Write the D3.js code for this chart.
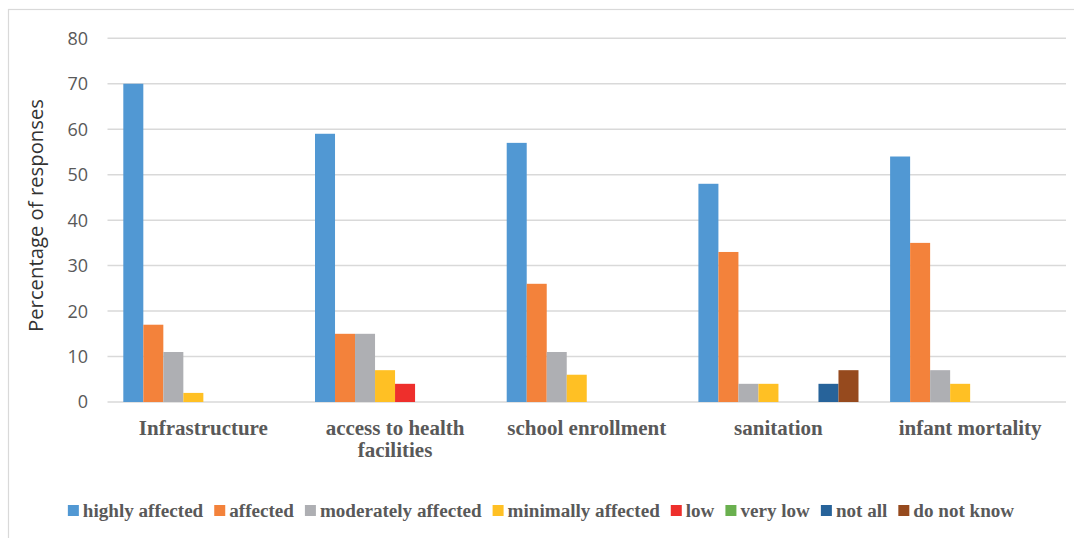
<!DOCTYPE html>
<html>
<head>
<meta charset="utf-8">
<script src="https://cdn.jsdelivr.net/npm/d3@7"></script>
<style>
  body { margin: 0; background: #fff; }
  svg { display: block; }
</style>
</head>
<body>
<svg id="chart" width="1074" height="538"></svg>
<script>
// Survey categories and the share of responses (%) for each impact level
const categories = ["Infrastructure", "access to health facilities", "school enrollment", "sanitation", "infant mortality"];
const seriesNames = ["highly affected", "affected", "moderately affected", "minimally affected", "low", "very low", "not all", "do not know"];
const highlyAffected     = [70, 59, 57, 48, 54];
const affected           = [17, 15, 26, 33, 35];
const moderatelyAffected = [11, 15, 11, 4, 7];
const minimallyAffected  = [2, 7, 6, 4, 4];
const low                = [0, 4, 0, 0, 0];
const veryLow            = [0, 0, 0, 0, 0];
const notAll             = [0, 0, 0, 4, 0];
const doNotKnow          = [0, 0, 0, 7, 0];
const yTicks = [0, 10, 20, 30, 40, 50, 60, 70, 80];
const seriesColors = ["#5198D3", "#F3823B", "#AEAFB3", "#FFC024", "#EE2F2C", "#6AB04F", "#27639A", "#964A1E"];

const seriesValues = [highlyAffected, affected, moderatelyAffected, minimallyAffected, low, veryLow, notAll, doNotKnow];

const svg = d3.select("#chart");
const W = 1074, H = 538;
const plot = { left: 107.5, right: 1066, top: 38.3, bottom: 402 };

// chart frame (top and left edges visible)
svg.append("rect")
  .attr("x", 8.5).attr("y", 9.5)
  .attr("width", W + 10).attr("height", H + 10)
  .attr("fill", "none").attr("stroke", "#d9d9d9").attr("stroke-width", 1.2);

const y = d3.scaleLinear().domain([0, 80]).range([plot.bottom, plot.top]);
const x0 = d3.scaleBand().domain(categories).range([plot.left, plot.right]).padding(0);
const x1 = d3.scaleBand().domain(seriesNames).range([0, x0.bandwidth()])
  .paddingInner(0).paddingOuter(0.79);

// horizontal gridlines
svg.append("g").selectAll("line").data(yTicks).join("line")
  .attr("x1", plot.left).attr("x2", plot.right)
  .attr("y1", d => y(d)).attr("y2", d => y(d))
  .attr("stroke", "#d9d9d9").attr("stroke-width", 1.5);

// y tick labels
svg.append("g").selectAll("text").data(yTicks).join("text")
  .attr("x", 88).attr("y", d => y(d))
  .attr("dy", "0.36em")
  .attr("text-anchor", "end")
  .attr("font-family", "'Open Sans', sans-serif")
  .attr("font-size", 18)
  .attr("fill", "#595959")
  .text(d => d);

// y axis title
svg.append("text")
  .attr("transform", `translate(43,${(98 + 333) / 2}) rotate(-90)`)
  .attr("text-anchor", "middle")
  .attr("font-family", "'Open Sans', sans-serif")
  .attr("font-size", 20.3)
  .attr("fill", "#333333")
  .text("Percentage of responses");

// bars
const groups = svg.append("g").selectAll("g").data(categories).join("g")
  .attr("transform", d => `translate(${x0(d)},0)`);

groups.selectAll("rect")
  .data((c, ci) => seriesNames.map((s, si) => ({ s, si, v: seriesValues[si][ci] })))
  .join("rect")
  .attr("x", d => x1(d.s))
  .attr("width", x1.bandwidth())
  .attr("y", d => y(d.v))
  .attr("height", d => y(0) - y(d.v))
  .attr("fill", d => seriesColors[d.si]);

// category labels, wrapped to fit each group
const catFont = "bold 21px 'Liberation Serif', 'Times New Roman', serif";
const measureCtx = document.createElement("canvas").getContext("2d");
function textWidth(str, font) { measureCtx.font = font; return measureCtx.measureText(str).width; }

function wrap(str, maxW) {
  const words = str.split(" ");
  const lines = [];
  let cur = "";
  words.forEach(w => {
    const test = cur ? cur + " " + w : w;
    if (cur && textWidth(test, catFont) > maxW) { lines.push(cur); cur = w; }
    else cur = test;
  });
  if (cur) lines.push(cur);
  return lines;
}

const catLabels = svg.append("g").selectAll("text").data(categories).join("text")
  .attr("x", d => x0(d) + x0.bandwidth() / 2)
  .attr("y", 435)
  .attr("text-anchor", "middle")
  .attr("font-family", "'Liberation Serif', 'Times New Roman', serif")
  .attr("font-weight", "bold")
  .attr("font-size", 21)
  .attr("fill", "#595959");

catLabels.each(function (d) {
  const lines = wrap(d, x0.bandwidth() - 6);
  d3.select(this).selectAll("tspan").data(lines).join("tspan")
    .attr("x", x0(d) + x0.bandwidth() / 2)
    .attr("dy", (l, i) => i === 0 ? 0 : 22)
    .text(l => l);
});

// legend
const legSize = 19.1;
const legFont = `bold ${legSize}px 'Liberation Serif', 'Times New Roman', serif`;
const sw = 11, swGap = 4, itemGap = 11;
const widths = seriesNames.map(s => sw + swGap + textWidth(s, legFont));
const total = d3.sum(widths) + itemGap * (seriesNames.length - 1);
let lx = (68 + 1014) / 2 - total / 2;
const legend = svg.append("g");
seriesNames.forEach((s, i) => {
  legend.append("rect")
    .attr("x", lx).attr("y", 505)
    .attr("width", sw).attr("height", sw)
    .attr("fill", seriesColors[i]);
  legend.append("text")
    .attr("x", lx + sw + swGap).attr("y", 517)
    .attr("font-family", "'Liberation Serif', 'Times New Roman', serif")
    .attr("font-weight", "bold")
    .attr("font-size", legSize)
    .attr("fill", "#595959")
    .text(s);
  lx += widths[i] + itemGap;
});
</script>
</body>
</html>
